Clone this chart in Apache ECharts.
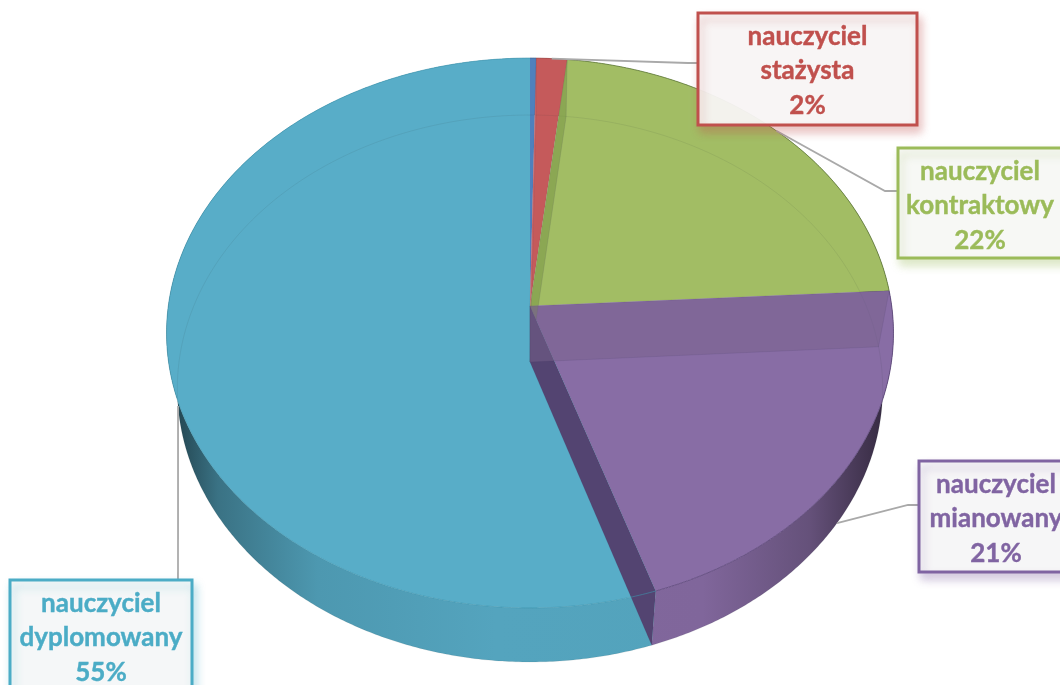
<!DOCTYPE html>
<html>
<head>
<meta charset="utf-8">
<style>
    html, body { margin: 0; padding: 0; background: #fff; }
    #chart { width: 1060px; height: 685px; }
</style>
<script src="https://cdn.jsdelivr.net/npm/echarts@6/dist/echarts.min.js"></script>
</head>
<body>
<div id="chart"></div>
<script>
// clockwise from 12 o'clock, the first slice is the thin unlabelled one
const categories = ['', 'nauczyciel\nstażysta', 'nauczyciel\nkontraktowy', 'nauczyciel\nmianowany', 'nauczyciel\ndyplomowany'];
const values = [0.3, 1.5, 22.3, 20.8, 55.1];

const faceColors = ['#4F81BD', '#C55A5B', '#A2BD64', '#886DA5', '#58ADC8'];
const textColors = ['#4F81BD', '#C0504D', '#9BBB59', '#8064A2', '#4BACC6'];
const rimColors = ['rgba(60,100,144,0.7)', 'rgba(148,64,62,0.6)', 'rgba(95,120,60,0.8)', 'rgba(90,69,120,0.8)', 'rgba(62,147,171,0.6)'];

// perspective of the two pie faces
const topFace = { cx: 530, cy: 306, a: 361.7, b: 272.3, k: -0.0982 };
const bottomFace = { cx: 530, cy: 362, a: 351, b: 270.9, k: -0.0969 };

// label boxes and the bend of their leader lines
const boxes = [
    null,
    { x: 698, y: 13, w: 219, h: 112, line: [[688, 63], [698, 63]], face: 'top' },
    { x: 898, y: 148, w: 180, h: 110, line: [[885, 191], [898, 191]], face: 'top' },
    { x: 919, y: 461, w: 180, h: 111, line: [[908, 505], [919, 505]], face: 'bottom' },
    { x: 10, y: 580, w: 182, h: 120, line: [[178, 580]], face: 'bottom' }
];

const total = values.reduce((s, v) => s + v, 0);
const edges = [0];
values.forEach((v, i) => edges.push(edges[i] + v / total * 360));

function project(face, deg) {
    const rad = deg * Math.PI / 180;
    const X = Math.sin(rad);
    const Y = -Math.cos(rad);
    const w = 1 + face.k * Y;
    return [face.cx + face.a * X / w, face.cy + face.b * Y / w];
}

function arc(face, from, to) {
    const pts = [];
    const n = Math.max(2, Math.ceil((to - from) / 0.5));
    for (let i = 0; i <= n; i++) {
        pts.push(project(face, from + (to - from) * i / n));
    }
    return pts;
}

function darken(color, level) {
    const c = echarts.color.parse(color);
    return 'rgb(' + c.slice(0, 3).map(v => Math.round(v * (1 - level))).join(',') + ')';
}

// side of the pie, dark towards both ends
function sideFill(i) {
    const c = faceColors[i];
    return new echarts.graphic.LinearGradient(175, 0, 888, 0, [
        { offset: 0, color: darken(c, 0.6) },
        { offset: 0.06, color: darken(c, 0.34) },
        { offset: 0.2, color: darken(c, 0.12) },
        { offset: 0.45, color: darken(c, 0.05) },
        { offset: 0.74, color: darken(c, 0.06) },
        { offset: 0.89, color: darken(c, 0.26) },
        { offset: 1, color: darken(c, 0.62) }
    ], true);
}

function renderSide(params) {
    const i = params.dataIndex;
    const pts = arc(topFace, edges[i], edges[i + 1]).concat(arc(bottomFace, edges[i], edges[i + 1]).reverse());
    return { type: 'polygon', shape: { points: pts }, style: { fill: sideFill(i) } };
}

function renderTop(params) {
    const i = params.dataIndex;
    const pts = [[topFace.cx, topFace.cy]].concat(arc(topFace, edges[i], edges[i + 1]));
    return { type: 'polygon', shape: { points: pts }, style: { fill: faceColors[i] } };
}

function renderInnerArc(params) {
    const i = params.dataIndex;
    return {
        type: 'polyline',
        shape: { points: arc(bottomFace, edges[i], edges[i + 1]) },
        style: { fill: null, stroke: 'rgba(40,50,60,0.09)', lineWidth: 1 }
    };
}

// walls between slices, seen through the top
const walls = [
    { edge: 2, fill: 'rgba(120,150,70,0.55)' },
    { edge: 1, fill: 'rgba(220,130,130,0.35)' },
    { edge: 4, fill: '#534471' },
    { edge: 3, fill: 'rgba(120,98,139,0.5)' }
];

function renderWall(params) {
    const wall = walls[params.dataIndex];
    const deg = edges[wall.edge];
    const pts = [
        [topFace.cx, topFace.cy],
        project(topFace, deg),
        project(bottomFace, deg),
        [bottomFace.cx, bottomFace.cy]
    ];
    return { type: 'polygon', shape: { points: pts }, style: { fill: wall.fill, stroke: 'rgba(60,50,90,0.2)', lineWidth: 0.6 } };
}

function renderRim(params) {
    const i = params.dataIndex;
    const s = arc(topFace, edges[i], edges[i + 1]);
    return { type: 'polyline', shape: { points: s }, style: { fill: null, stroke: rimColors[i], lineWidth: 1 } };
}

function renderLeader(params) {
    const i = params.dataIndex;
    const box = boxes[i];
    if (!box) return null;
    const mid = (edges[i] + edges[i + 1]) / 2;
    const start = project(box.face === 'top' ? topFace : bottomFace, mid);
    return {
        type: 'polyline',
        shape: { points: [start].concat(box.line) },
        style: { fill: null, stroke: '#A9A9A9', lineWidth: 1.8 }
    };
}

function renderBox(params) {
    const i = params.dataIndex;
    const box = boxes[i];
    if (!box) return null;
    const color = textColors[i];
    const lines = categories[i].split('\n').concat(Math.round(values[i]) + '%');
    const textCx = i === 3 ? 996 : box.x + (i === 2 ? 82 : box.w / 2);
    const children = [{
        type: 'rect',
        shape: { x: box.x, y: box.y, width: box.w, height: box.h },
        style: {
            fill: 'rgba(249,249,249,0.93)',
            stroke: color,
            lineWidth: 3,
            shadowBlur: 9,
            shadowOffsetX: 3,
            shadowOffsetY: 6,
            shadowColor: echarts.color.modifyAlpha(color, 0.35)
        }
    }];
    lines.forEach((t, n) => {
        children.push({
            type: 'text',
            style: {
                text: t,
                x: textCx,
                y: box.y + 23.5 + n * 34.5,
                align: 'center',
                verticalAlign: 'middle',
                fill: color,
                stroke: color,
                lineWidth: 0.4,
                font: 'bold 26px Lato'
            }
        });
    });
    return { type: 'group', children: children };
}

function layer(render, data, z) {
    return { type: 'custom', coordinateSystem: 'none', renderItem: render, data: data, z: z, silent: true, clip: false };
}

const chart = echarts.init(document.getElementById('chart'));
chart.setOption({
    animation: false,
    backgroundColor: '#fff',
    series: [
        layer(renderSide, values, 1),
        layer(renderTop, values, 2),
        layer(renderInnerArc, values, 3),
        layer(renderWall, walls, 4),
        layer(renderRim, values, 5),
        layer(renderLeader, values, 6),
        layer(renderBox, values, 7)
    ]
});
</script>
</body>
</html>
